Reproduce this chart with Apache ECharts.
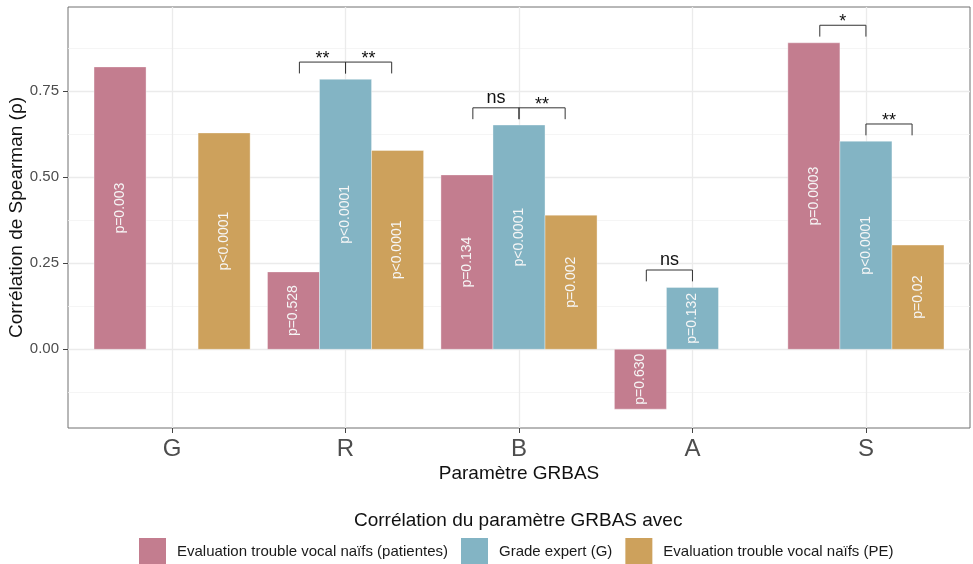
<!DOCTYPE html>
<html>
<head>
<meta charset="utf-8">
<script src="https://cdn.jsdelivr.net/npm/echarts@6/dist/echarts.min.js"></script>
<style>
  html, body { margin: 0; padding: 0; background: #fff; }
  #chart { width: 973px; height: 564px; }
</style>
</head>
<body>
<div id="chart"></div>
<script>
var categories = ['G', 'R', 'B', 'A', 'S'];
var seriesNames = [
  'Evaluation trouble vocal naïfs (patientes)',
  'Grade expert (G)',
  'Evaluation trouble vocal naïfs (PE)'
];
var patientValues = [0.821, 0.225, 0.507, -0.174, 0.891];
var patientLabels = ['p=0.003', 'p=0.528', 'p=0.134', 'p=0.630', 'p=0.0003'];
var expertValues = [null, 0.785, 0.652, 0.180, 0.605];
var expertLabels = [null, 'p<0.0001', 'p<0.0001', 'p=0.132', 'p<0.0001'];
var peValues = [0.629, 0.578, 0.390, null, 0.303];
var peLabels = ['p<0.0001', 'p<0.0001', 'p=0.002', null, 'p=0.02'];
var yTicks = [0, 0.25, 0.5, 0.75];
var yMinorTicks = [-0.125, 0.125, 0.375, 0.625, 0.875];

// significance brackets, x in category units (1 = G)
var sigXmin = [1.734, 2.0, 2.734, 3.0, 3.734, 4.734, 5.0];
var sigXmax = [2.0, 2.266, 3.0, 3.266, 4.0, 5.0, 5.266];
var sigY = [0.835, 0.835, 0.702, 0.702, 0.2305, 0.942, 0.655];
var sigText = ['**', '**', 'ns', '**', 'ns', '*', '**'];

var FONT = '"Liberation Sans", Arial, sans-serif';
var BAR_W = 0.3;
var colors = ['#c37d8f', '#83b4c4', '#cda15c'];

function barSeries(idx, values, labels) {
  var data = [];
  values.forEach(function (v, i) {
    if (v !== null) data.push([i + 1, v, i]);
  });
  return {
    name: seriesNames[idx],
    type: 'custom',
    color: colors[idx],
    itemStyle: { color: colors[idx] },
    encode: { x: 0, y: 1 },
    data: data,
    z: 3,
    renderItem: function (params, api) {
      var x = api.value(0) + (idx - 1) * BAR_W;
      var v = api.value(1);
      var p0 = api.coord([x - BAR_W / 2, 0]);
      var p1 = api.coord([x + BAR_W / 2, v]);
      return {
        type: 'group',
        children: [
          {
            type: 'rect',
            shape: {
              x: p0[0], y: Math.min(p0[1], p1[1]),
              width: p1[0] - p0[0], height: Math.abs(p1[1] - p0[1])
            },
            style: { fill: colors[idx], stroke: 'rgba(255,255,255,0.45)', lineWidth: 0.8 }
          },
          {
            type: 'text',
            x: (p0[0] + p1[0]) / 2,
            y: (p0[1] + p1[1]) / 2,
            rotation: Math.PI / 2,
            style: {
              text: labels[api.value(2)],
              fill: '#f6f6f6',
              font: '14px ' + FONT,
              align: 'center',
              verticalAlign: 'middle'
            }
          }
        ]
      };
    }
  };
}

var sigData = sigY.map(function (y, i) { return [sigXmin[i], sigXmax[i], y, i]; });

var chart = echarts.init(document.getElementById('chart'));
var option = {
  animation: false,
  title: {
    text: 'Corrélation du paramètre GRBAS avec',
    left: 354,
    top: 511,
    padding: 0,
    textStyle: { fontFamily: FONT, fontSize: 19, fontWeight: 'normal', color: '#111' }
  },
  legend: {
    data: seriesNames,
    left: 139,
    top: 538,
    padding: 0,
    icon: 'rect',
    itemWidth: 27,
    itemHeight: 27,
    itemGap: 13,
    textStyle: { fontFamily: FONT, fontSize: 15, color: '#1a1a1a', padding: [0, 0, 0, 6] }
  },
  grid: {
    left: 68, right: 3, top: 7, bottom: 136,
    containLabel: false,
    outerBoundsMode: 'none',
    show: true, borderColor: '#707070', borderWidth: 1
  },
  xAxis: {
    type: 'value',
    min: 0.4,
    max: 5.6,
    name: 'Paramètre GRBAS',
    nameLocation: 'middle',
    nameGap: 36,
    nameMoveOverlap: false,
    nameTextStyle: { fontFamily: FONT, fontSize: 19, color: '#111' },
    axisLine: { show: false, onZero: false },
    axisTick: { show: true, customValues: [1, 2, 3, 4, 5], length: 5, lineStyle: { color: '#444' } },
    axisLabel: {
      customValues: [1, 2, 3, 4, 5],
      formatter: function (v) { return categories[Math.round(v) - 1]; },
      fontFamily: FONT, fontSize: 24, color: '#4d4d4d', margin: 9
    },
    splitLine: { show: true, lineStyle: { color: '#ebebeb', width: 1.3 } }
  },
  yAxis: [
    {
      type: 'value',
      min: -0.2288,
      max: 0.9951,
      name: 'Corrélation de Spearman (ρ)',
      nameLocation: 'middle',
      nameGap: 42,
      nameMoveOverlap: false,
      nameTextStyle: { fontFamily: FONT, fontSize: 19, color: '#111' },
      axisLine: { show: false, onZero: false },
      axisTick: { show: true, customValues: yTicks, length: 5, lineStyle: { color: '#444' } },
      axisLabel: {
        customValues: yTicks,
        formatter: function (v) { return v.toFixed(2); },
        fontFamily: FONT, fontSize: 15, color: '#4d4d4d', margin: 9
      },
      splitLine: { show: true, lineStyle: { color: '#ebebeb', width: 1.3 } }
    },
    {
      type: 'value',
      min: -0.2288,
      max: 0.9951,
      axisLine: { show: false, onZero: false },
      axisTick: { show: false, customValues: yMinorTicks },
      axisLabel: { show: false, customValues: yMinorTicks },
      splitLine: { show: true, lineStyle: { color: '#f2f2f2', width: 0.8 } }
    }
  ],
  series: [
    barSeries(0, patientValues, patientLabels),
    barSeries(1, expertValues, expertLabels),
    barSeries(2, peValues, peLabels),
    {
      type: 'custom',
      data: sigData,
      encode: { x: [0, 1], y: 2 },
      z: 4,
      silent: true,
      renderItem: function (params, api) {
        var a = api.coord([api.value(0), api.value(2)]);
        var b = api.coord([api.value(1), api.value(2)]);
        var tip = api.coord([api.value(0), api.value(2) - 0.033]);
        var txt = sigText[api.value(3)];
        var off = txt === 'ns' ? 10 : 3;
        return {
          type: 'group',
          children: [
            {
              type: 'polyline',
              shape: { points: [[a[0], tip[1]], a, b, [b[0], tip[1]]] },
              style: { stroke: '#333', lineWidth: 1, fill: null }
            },
            {
              type: 'text',
              x: (a[0] + b[0]) / 2,
              y: a[1] - off,
              style: {
                text: txt, fill: '#111', font: '18px ' + FONT,
                align: 'center', verticalAlign: 'middle'
              }
            }
          ]
        };
      }
    }
  ]
};
chart.setOption(option);
</script>
</body>
</html>
